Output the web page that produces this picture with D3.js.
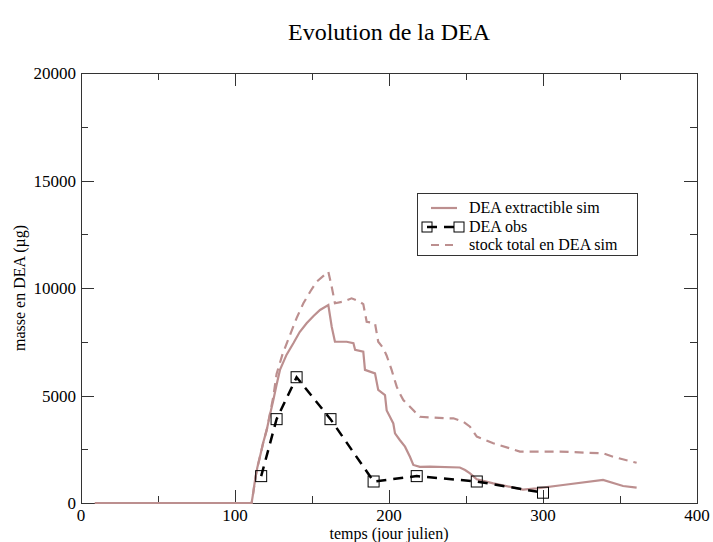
<!DOCTYPE html>
<html>
<head>
  <meta charset="utf-8">
  <script src="https://d3js.org/d3.v7.min.js"></script>
  <style>
    body { margin: 0; background: #fff; }
  </style>
</head>
<body>
  <div id="chart"></div>
  <script>
    // DEA extractible sim (solid)
    const extractDays = [9, 110.8, 112, 113, 114.5, 116.2, 118.3, 120.6, 122.7, 124.9, 127, 129.2, 133.5, 137.9, 142, 146.5, 151, 155.2, 160.6, 162.8, 164.9, 172.5, 176.9, 178, 183.3, 184.4, 190.9, 193, 197.4, 198.5, 200.6, 202.8, 203.9, 207, 210.4, 213.6, 215.8, 220, 226.6, 246, 249.4, 252.6, 257, 267.7, 287, 296, 313, 339, 352, 360.8];
    const extractValues = [0, 0, 550, 1070, 1650, 2150, 2800, 3400, 4100, 4790, 5500, 6190, 6900, 7430, 7950, 8360, 8700, 8980, 9210, 8200, 7500, 7500, 7430, 7120, 7040, 6190, 6030, 5260, 5020, 4300, 4010, 3700, 3240, 2930, 2620, 2150, 1770, 1680, 1690, 1650, 1535, 1380, 1100, 916, 620, 684, 837, 1070, 790, 712];

    // stock total en DEA sim (dashed)
    const stockDays = [9, 110.8, 112, 113, 114.5, 116.2, 118.3, 120.6, 122.7, 124.9, 127, 131, 135.7, 140, 144.4, 149, 153, 160.6, 162.8, 164.9, 170, 175.7, 180, 183.3, 185.5, 190.9, 193, 196.3, 198.5, 201.7, 205, 207, 209.3, 213.6, 216, 220, 237.4, 241.8, 248.2, 252.6, 257, 267.7, 278.6, 285, 311, 339, 345.6, 360.8];
    const stockValues = [0, 0, 550, 1070, 1650, 2150, 2800, 3400, 4150, 4950, 6000, 6950, 7810, 8600, 9290, 9850, 10290, 10760, 10060, 9290, 9360, 9520, 9400, 9250, 8430, 8360, 7500, 7200, 6850, 6190, 5410, 5100, 4790, 4480, 4300, 4010, 3940, 3940, 3780, 3550, 3090, 2780, 2540, 2390, 2390, 2310, 2150, 1870];

    // DEA obs
    const obsDays = [117, 127, 140, 162, 190, 218, 257, 300];
    const obsValues = [1250, 3900, 5850, 3900, 1000, 1250, 1000, 480];

    const xTicks = [0, 100, 200, 300, 400];
    const yTicks = [0, 5000, 10000, 15000, 20000];

    const width = 713, height = 542;
    const margin = { top: 73, right: 16, bottom: 39, left: 81 };
    const simColor = "#bc8f8f";
    const serif = "'Liberation Serif', 'Times New Roman', 'DejaVu Serif', serif";

    const svg = d3.select("#chart").append("svg")
      .attr("width", width)
      .attr("height", height)
      .attr("font-family", serif);

    const x = d3.scaleLinear().domain([0, 400]).range([margin.left, width - margin.right]);
    const y = d3.scaleLinear().domain([0, 20000]).range([height - margin.bottom, margin.top]);

    const x0 = x(0), x1 = x(400), y0 = y(0), y1 = y(20000);

    // ticks (inward, mirrored)
    const tickG = svg.append("g").attr("stroke", "#333").attr("stroke-width", 1);
    d3.range(0, 401, 50).forEach(function(d) {
      const len = d % 100 === 0 ? 13 : 7;
      const px = Math.round(x(d)) + 0.5;
      tickG.append("line").attr("x1", px).attr("x2", px).attr("y1", y0).attr("y2", y0 - len);
      tickG.append("line").attr("x1", px).attr("x2", px).attr("y1", y1).attr("y2", y1 + len);
    });
    d3.range(0, 20001, 2500).forEach(function(v) {
      const len = v % 5000 === 0 ? 13 : 7;
      const py = Math.round(y(v)) + 0.5;
      tickG.append("line").attr("x1", x0).attr("x2", x0 + len).attr("y1", py).attr("y2", py);
      tickG.append("line").attr("x1", x1).attr("x2", x1 - len).attr("y1", py).attr("y2", py);
    });

    // frame
    svg.append("rect")
      .attr("x", Math.round(x0) + 0.5).attr("y", Math.round(y1) + 0.5)
      .attr("width", Math.round(x1 - x0)).attr("height", Math.round(y0 - y1))
      .attr("fill", "none").attr("stroke", "#333").attr("stroke-width", 1);

    // tick labels
    svg.append("g").selectAll("text").data(xTicks).enter().append("text")
      .attr("x", d => x(d)).attr("y", y0 + 18)
      .attr("text-anchor", "middle").style("font-size", "17px")
      .text(d => d);
    svg.append("g").selectAll("text").data(yTicks).enter().append("text")
      .attr("x", x0 - 5).attr("y", d => y(d) + 6)
      .attr("text-anchor", "end").style("font-size", "17px")
      .text(d => d);

    // axis titles
    svg.append("text")
      .attr("x", (x0 + x1) / 2).attr("y", 539)
      .attr("text-anchor", "middle").style("font-size", "16px")
      .text("temps (jour julien)");
    svg.append("text")
      .attr("transform", "translate(25," + ((y0 + y1) / 2) + ") rotate(-90)")
      .attr("text-anchor", "middle").style("font-size", "16px")
      .text("masse en DEA (µg)");

    // title
    svg.append("text")
      .attr("x", (x0 + x1) / 2).attr("y", 40)
      .attr("text-anchor", "middle").style("font-size", "24px")
      .text("Evolution de la DEA");

    const line = d3.line().x(d => x(d[0])).y(d => y(d[1]));

    svg.append("path")
      .datum(d3.zip(stockDays, stockValues))
      .attr("d", line)
      .attr("fill", "none").attr("stroke", simColor)
      .attr("stroke-width", 2.2).attr("stroke-dasharray", "9,6");

    svg.append("path")
      .datum(d3.zip(extractDays, extractValues))
      .attr("d", line)
      .attr("fill", "none").attr("stroke", simColor)
      .attr("stroke-width", 2.2);

    const obs = d3.zip(obsDays, obsValues);
    svg.append("path")
      .datum(obs)
      .attr("d", line)
      .attr("fill", "none").attr("stroke", "#000")
      .attr("stroke-width", 2.5).attr("stroke-dasharray", "10,7");

    svg.append("g").selectAll("rect").data(obs).enter().append("rect")
      .attr("x", d => x(d[0]) - 5.5).attr("y", d => y(d[1]) - 5.5)
      .attr("width", 11).attr("height", 11)
      .attr("fill", "none").attr("stroke", "#000").attr("stroke-width", 1);

    // legend
    const lg = svg.append("g").attr("transform", "translate(417,193)");
    lg.append("rect").attr("x", 0.5).attr("y", 0.5).attr("width", 220).attr("height", 62)
      .attr("fill", "#fff").attr("stroke", "#333").attr("stroke-width", 1);
    const rows = [15, 34, 52];
    lg.append("line").attr("x1", 14).attr("x2", 40).attr("y1", rows[0]).attr("y2", rows[0])
      .attr("stroke", simColor).attr("stroke-width", 2.2);
    lg.append("line").attr("x1", 8).attr("x2", 44).attr("y1", rows[1]).attr("y2", rows[1])
      .attr("stroke", "#000").attr("stroke-width", 2.5).attr("stroke-dasharray", "10,7").attr("stroke-dashoffset", -2);
    [10, 42].forEach(function(cx) {
      lg.append("rect").attr("x", cx - 5).attr("y", rows[1] - 5).attr("width", 10).attr("height", 10)
        .attr("fill", "none").attr("stroke", "#000").attr("stroke-width", 1);
    });
    lg.append("line").attr("x1", 14).attr("x2", 40).attr("y1", rows[2]).attr("y2", rows[2])
      .attr("stroke", simColor).attr("stroke-width", 2.2).attr("stroke-dasharray", "8,6");
    const labels = ["DEA extractible sim", "DEA obs", "stock total en DEA sim"];
    lg.selectAll("text.lab").data(labels).enter().append("text")
      .attr("class", "lab")
      .attr("x", 52).attr("y", (d, i) => rows[i] + 5)
      .style("font-size", "16px")
      .text(d => d);
  </script>
</body>
</html>
